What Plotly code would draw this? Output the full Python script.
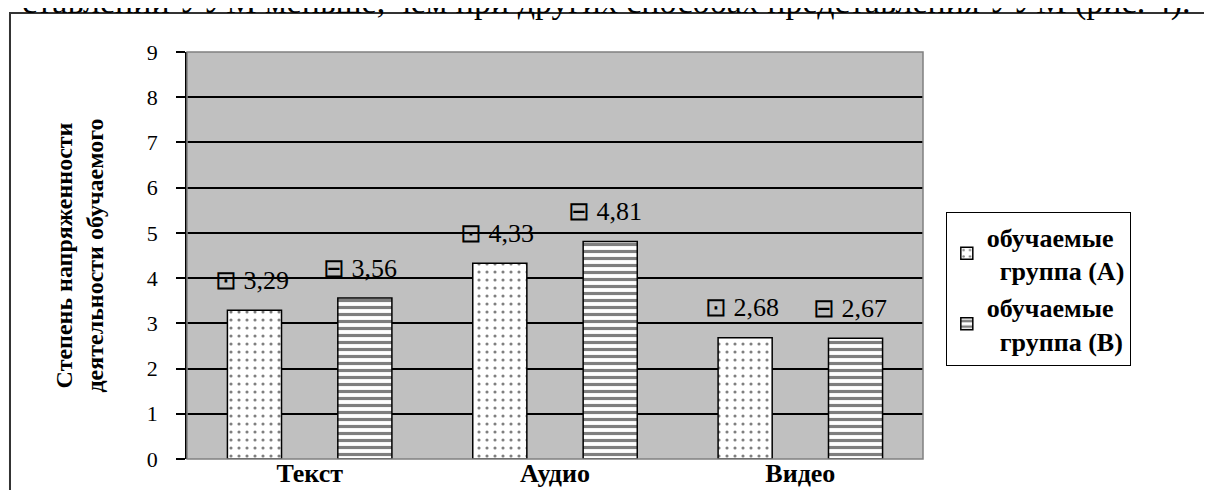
import plotly.graph_objects as go

categories = ["Текст", "Аудио", "Видео"]
group_a = [3.29, 4.33, 2.68]
group_b = [3.56, 4.81, 2.67]
labels_a = ["3,29", "4,33", "2,68"]
labels_b = ["3,56", "4,81", "2,67"]
series_names = ["обучаемые<br>  группа (А)", "обучаемые<br>  группа (В)"]
y_ticks = list(range(0, 10))

SERIF = "Liberation Serif"

fig = go.Figure()
fig.add_bar(
    x=categories, y=group_a, name=series_names[0],
    marker=dict(color="white", line=dict(color="black", width=1.5),
                pattern=dict(shape=".", fgcolor="black", bgcolor="white", size=8, solidity=0.12)),
)
fig.add_bar(
    x=categories, y=group_b, name=series_names[1],
    marker=dict(color="white", line=dict(color="black", width=1.5),
                pattern=dict(shape="-", fgcolor="black", bgcolor="white", size=7, solidity=0.45)),
)

for cat, v, t in zip(categories, group_a, labels_a):
    fig.add_annotation(x=cat, y=v, xref="x", yref="y", text="⊡ " + t, showarrow=False,
                       xshift=-58, yshift=30, font=dict(family=SERIF, size=26, color="black"))
for cat, v, t in zip(categories, group_b, labels_b):
    fig.add_annotation(x=cat, y=v, xref="x", yref="y", text="⊟ " + t, showarrow=False,
                       xshift=50, yshift=30, font=dict(family=SERIF, size=26, color="black"))

# cut-off text line above the figure
fig.add_annotation(xref="paper", yref="paper", x=-0.227, y=1.122, xanchor="left", yanchor="middle",
                   text="ставлений УУМ меньше, чем при других способах представления УУМ (рис. 4).",
                   showarrow=False, font=dict(family=SERIF, size=34, color="black"))

# outer chart frame
fig.add_shape(type="rect", xref="paper", yref="paper", x0=-0.2405, y0=-0.3, x1=1.6, y1=1.0958,
              line=dict(color="#333333", width=2), fillcolor="rgba(0,0,0,0)", layer="below")
# plot area border
fig.add_shape(type="rect", xref="paper", yref="paper", x0=0, y0=0, x1=1, y1=1,
              line=dict(color="#808080", width=1.5), fillcolor="rgba(0,0,0,0)", layer="above")

fig.update_layout(
    width=1204, height=482,
    margin=dict(l=179, r=289, t=44, b=31, autoexpand=False),
    paper_bgcolor="white",
    plot_bgcolor="#c0c0c0",
    barmode="group",
    bargap=0.10,
    bargroupgap=0.51,
    font=dict(family=SERIF, color="black"),
    showlegend=True,
    legend=dict(
        x=1.031, y=0.607, xanchor="left", yanchor="top",
        bgcolor="white", bordercolor="black", borderwidth=1,
        font=dict(family=SERIF, size=26, color="black", weight="bold"),
        itemwidth=30,
    ),
    xaxis=dict(
        showgrid=False, showline=False, ticks="", automargin=False,
        tickfont=dict(family=SERIF, size=26, weight="bold", color="black"),
        ticklabelstandoff=-4,
    ),
    yaxis=dict(
        range=[0, 9], tickvals=y_ticks, showgrid=True, gridcolor="black", gridwidth=1.5,
        showline=True, linecolor="black", linewidth=1.5, automargin=False,
        ticks="outside", ticklen=9, tickwidth=1.5, tickcolor="black",
        tickfont=dict(family=SERIF, size=22, color="black"),
        ticklabelstandoff=14,
        zeroline=False,
        title=dict(text="Степень напряженности<br>деятельности обучаемого",
                   font=dict(family=SERIF, size=24, weight="bold", color="black"), standoff=36),
    ),
)

fig.write_html("out.html")
